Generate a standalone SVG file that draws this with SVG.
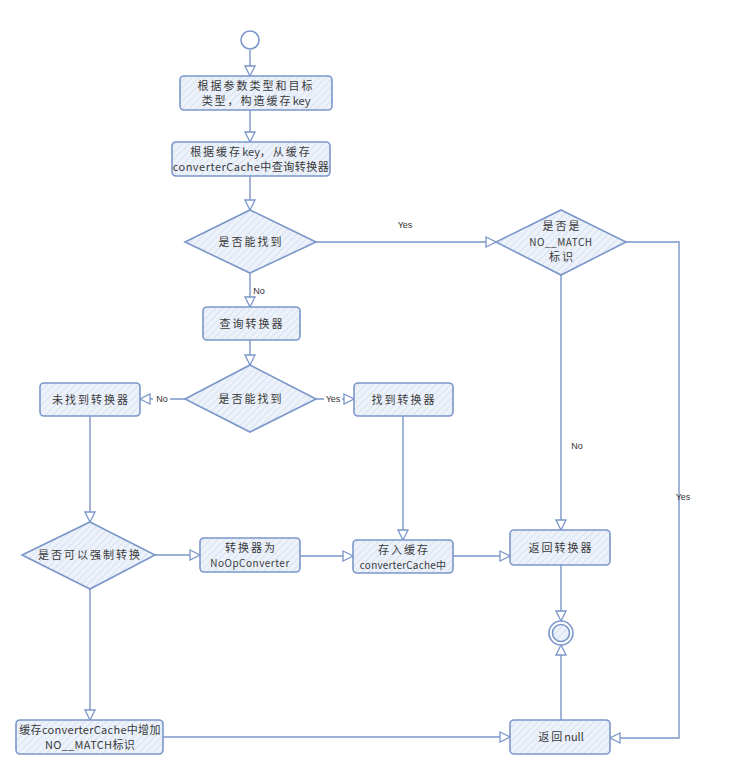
<svg xmlns="http://www.w3.org/2000/svg" width="729" height="772" viewBox="0 0 729 772">
<style>
.n{fill:url(#h);stroke:#7b96c9;stroke-width:1.6}
.c{fill:none;stroke:#7b96c9;stroke-width:1.4}
.t{font-family:"Noto Sans CJK SC","Liberation Sans",sans-serif;font-size:11px;fill:#3a3a3a;text-anchor:middle;letter-spacing:2px}
.l{font-family:"Liberation Sans",sans-serif;font-size:9px;fill:#333;text-anchor:middle}
.bg{fill:#fff}
</style>
<defs>
<pattern id="h" patternUnits="userSpaceOnUse" width="5" height="5" patternTransform="rotate(45)">
<rect width="5" height="5" fill="#edf2fa"/>
<line x1="0" y1="0" x2="0" y2="5" stroke="#c9d7ef" stroke-width="1.2"/>
</pattern>
<marker id="a" markerUnits="userSpaceOnUse" markerWidth="12" markerHeight="12" refX="10" refY="5" orient="auto" viewBox="-1 -1 12 12">
<path d="M0,0 L10,5 L0,10 z" fill="#fff" stroke="#7b96c9" stroke-width="1.3"/>
</marker>
</defs>
<rect width="729" height="772" fill="#fff"/>
<g id="connectors">
<path class="c" d="M250,50 V76" marker-end="url(#a)"/>
<path class="c" d="M250,110 V142" marker-end="url(#a)"/>
<path class="c" d="M250,176 V210" marker-end="url(#a)"/>
<path class="c" d="M316,242 H496" marker-end="url(#a)"/>
<path class="c" d="M626,242 H679 V738 H610" marker-end="url(#a)"/>
<path class="c" d="M561,275 V530" marker-end="url(#a)"/>
<path class="c" d="M250,273 V307" marker-end="url(#a)"/>
<path class="c" d="M250,340 V365" marker-end="url(#a)"/>
<path class="c" d="M185,399 H140" marker-end="url(#a)"/>
<path class="c" d="M316,399 H354" marker-end="url(#a)"/>
<path class="c" d="M90,416 V522" marker-end="url(#a)"/>
<path class="c" d="M403,416 V540" marker-end="url(#a)"/>
<path class="c" d="M155,555 H200" marker-end="url(#a)"/>
<path class="c" d="M300,556 H353" marker-end="url(#a)"/>
<path class="c" d="M453,556 H510" marker-end="url(#a)"/>
<path class="c" d="M561,565 V621" marker-end="url(#a)"/>
<path class="c" d="M90,589 V720" marker-end="url(#a)"/>
<path class="c" d="M163,737 H510" marker-end="url(#a)"/>
<path class="c" d="M561,720 V645" marker-end="url(#a)"/>
<text class="l" x="405" y="228">Yes</text>
<text class="l" x="683" y="500">Yes</text>
<text class="l" x="577" y="449">No</text>
<text class="l" x="259" y="294">No</text>
<rect class="bg" x="153" y="394" width="17" height="10"/>
<text class="l" x="162" y="402">No</text>
<rect class="bg" x="324" y="394" width="18" height="10"/>
<text class="l" x="333" y="402">Yes</text>
</g>
<g id="start"><circle cx="250" cy="40" r="9" class="n" style="fill:#fff"/></g>
<g id="n1"><rect class="n" x="180" y="76" width="152" height="34" rx="4"/><text class="t" x="256" y="90">根据参数类型和目标</text><text class="t" x="256" y="105">类型，构造缓存<tspan style="letter-spacing:0">key</tspan></text></g>
<g id="n2"><rect class="n" x="172" y="142" width="158" height="34" rx="4"/><text class="t" x="251" y="156">根据缓存<tspan style="letter-spacing:0">key</tspan>，从缓存</text><text class="t" x="251" y="171" style="letter-spacing:0.5px">converterCache中查询转换器</text></g>
<g id="d1"><path class="n" d="M250,210 L316,242 L250,273 L185,242 Z"/><text class="t" x="251" y="246">是否能找到</text></g>
<g id="d2"><path class="n" d="M561,210 L626,242 L561,275 L496,242 Z"/><text class="t" x="562" y="230">是否是</text><text class="t" x="561" y="246" style="letter-spacing:0.5px;font-size:10px">NO__MATCH</text><text class="t" x="562" y="261">标识</text></g>
<g id="n3"><rect class="n" x="203" y="307" width="97" height="33" rx="4"/><text class="t" x="252" y="328">查询转换器</text></g>
<g id="d3"><path class="n" d="M250,365 L316,399 L250,432 L185,399 Z"/><text class="t" x="251" y="403">是否能找到</text></g>
<g id="n4"><rect class="n" x="40" y="383" width="100" height="33" rx="4"/><text class="t" x="91" y="404">未找到转换器</text></g>
<g id="n5"><rect class="n" x="354" y="383" width="99" height="33" rx="4"/><text class="t" x="404" y="404">找到转换器</text></g>
<g id="d4"><path class="n" d="M90,522 L155,555 L90,589 L22,555 Z"/><text class="t" x="90" y="559">是否可以强制转换</text></g>
<g id="n6"><rect class="n" x="200" y="538" width="100" height="34" rx="4"/><text class="t" x="251" y="552">转换器为</text><text class="t" x="250" y="567" style="letter-spacing:0.5px;font-size:10px">NoOpConverter</text></g>
<g id="n7"><rect class="n" x="353" y="540" width="100" height="33" rx="4"/><text class="t" x="404" y="554">存入缓存</text><text class="t" x="403" y="569" style="letter-spacing:0.2px;font-size:10px">converterCache中</text></g>
<g id="n8"><rect class="n" x="510" y="530" width="100" height="35" rx="4"/><text class="t" x="561" y="552">返回转换器</text></g>
<g id="end"><circle cx="561" cy="633" r="12" class="n" style="fill:#fff"/><circle cx="561" cy="633" r="8.5" class="n"/></g>
<g id="n9"><rect class="n" x="16" y="720" width="147" height="34" rx="4"/><text class="t" x="90" y="734" style="letter-spacing:0.3px">缓存converterCache中增加</text><text class="t" x="90" y="749" style="letter-spacing:0.3px">NO__MATCH标识</text></g>
<g id="n10"><rect class="n" x="510" y="720" width="100" height="34" rx="4"/><text class="t" x="561" y="741">返回<tspan style="letter-spacing:0">null</tspan></text></g>
</svg>
